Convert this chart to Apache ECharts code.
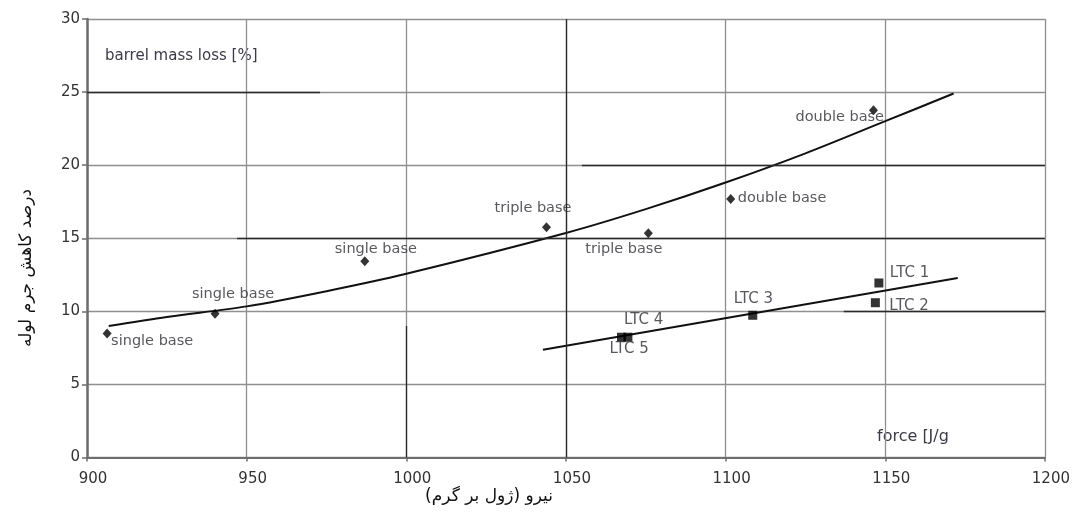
<!DOCTYPE html>
<html>
<head>
<meta charset="utf-8">
<script src="https://cdn.jsdelivr.net/npm/echarts@6/dist/echarts.min.js"></script>
<style>html,body{margin:0;padding:0;background:#fff}#c{width:1073px;height:518px}</style>
</head>
<body>
<div id="c"></div>
<script>
// ---- data ----
const propellantForce = [906.3, 940.1, 987.0, 1043.9, 1075.8, 1101.6, 1146.3];
const propellantLoss  = [8.48, 9.84, 13.43, 15.75, 15.34, 17.68, 23.76];
const propellantNames = ['single base', 'single base', 'single base', 'triple base', 'triple base', 'double base', 'double base'];

const ltcForce = [1148.0, 1146.9, 1108.5, 1069.4, 1067.4];
const ltcLoss  = [11.94, 10.59, 9.73, 8.23, 8.23];
const ltcNames = ['LTC 1', 'LTC 2', 'LTC 3', 'LTC 4', 'LTC 5'];

// fitted curve through the propellant points
const trendForce = [906.8, 925, 950, 975, 1000, 1050, 1075, 1100, 1125, 1150, 1171.4];
const trendLoss  = [9.0, 9.62, 10.34, 11.38, 12.57, 15.36, 16.99, 18.81, 20.81, 23.01, 24.9];

// straight fit through the LTC points
const ltcTrendForce = [1042.8, 1172.7];
const ltcTrendLoss  = [7.37, 12.28];

const xTicks = [900, 950, 1000, 1050, 1100, 1150, 1200];
const yTicks = [0, 5, 10, 15, 20, 25, 30];

// darker grid segments visible in the scan: [x1, y1, x2, y2]
const darkGridSegments = [
  [1050, 0, 1050, 30],
  [900, 25, 973, 25],
  [947, 15, 1200, 15],
  [1055, 20, 1200, 20],
  [1137, 10, 1200, 10],
  [1000, 0, 1000, 9]
];

// ---- label layout (pixel offsets, style only) ----
const propLabelOffsets = [[4, 8], [-23, -19], [-30, -12], [-52, -19], [-63, 16], [7, -1], [-78, 7]];
const ltcLabelOffsets  = [[11, -10], [14, 3], [-19, -16], [-4, -17], [-12, 12]];

const FONT = 'DejaVu Sans';
const TXT = '#2e2e36';

function pts(xs, ys) { return xs.map((x, i) => [x, ys[i]]); }

const propData = propellantForce.map((x, i) => ({
  value: [x, propellantLoss[i]],
  name: propellantNames[i],
  label: { offset: propLabelOffsets[i] }
}));
const ltcData = ltcForce.map((x, i) => ({
  value: [x, ltcLoss[i]],
  name: ltcNames[i],
  label: { offset: ltcLabelOffsets[i] }
}));

const chart = echarts.init(document.getElementById('c'), null, { renderer: 'canvas' });
chart.setOption({
  animation: false,
  backgroundColor: '#fff',
  grid: { left: 87, right: 26, top: 19, bottom: 60.5, containLabel: false },
  xAxis: {
    type: 'value', min: xTicks[0], max: xTicks[xTicks.length - 1], interval: 50,
    axisLine: { show: true, onZero: false, lineStyle: { color: '#6e6e6e', width: 2 } },
    axisTick: { show: true, inside: false, length: 4, lineStyle: { color: '#6e6e6e', width: 1.5 } },
    axisLabel: { color: '#333', fontFamily: FONT, fontSize: 15, margin: 14, padding: [0, 0, 0, 12], formatter: v => String(v) },
    splitLine: { show: true, lineStyle: { color: '#8f8f8f', width: 1.3 } }
  },
  yAxis: {
    type: 'value', min: yTicks[0], max: yTicks[yTicks.length - 1], interval: 5,
    axisLine: { show: true, onZero: false, lineStyle: { color: '#6e6e6e', width: 2.5 } },
    axisTick: { show: true, inside: false, length: 5, lineStyle: { color: '#6e6e6e', width: 1.5 } },
    axisLabel: { color: '#333', fontFamily: FONT, fontSize: 15, margin: 7, formatter: v => String(v) },
    splitLine: { show: true, lineStyle: { color: '#8f8f8f', width: 1.3 } }
  },
  graphic: [
    { type: 'text', x: 105, y: 56, style: { text: 'barrel mass loss [%]', fill: '#3a3a48', font: '15px "DejaVu Sans"', textAlign: 'left', textVerticalAlign: 'middle' } },
    { type: 'text', x: 877, y: 437, style: { text: 'force [J/g', fill: '#3a3a48', font: '16px "DejaVu Sans"', textAlign: 'left', textVerticalAlign: 'middle' } },
    { type: 'text', x: 489, y: 497, style: { text: 'نیرو (ژول بر گرم)', fill: '#111', font: '17px "DejaVu Sans"', textAlign: 'center', textVerticalAlign: 'middle' } },
    { type: 'text', x: 27, y: 268, rotation: Math.PI / 2, style: { text: 'درصد کاهش جرم لوله', fill: '#111', font: '17px "DejaVu Sans"', textAlign: 'center', textVerticalAlign: 'middle' } }
  ],
  series: [
    {
      type: 'line', data: [], silent: true,
      markLine: {
        symbol: ['none', 'none'], silent: true, label: { show: false },
        lineStyle: { color: '#2a2a2a', width: 1.3, type: 'solid' },
        data: darkGridSegments.map(s => [{ coord: [s[0], s[1]] }, { coord: [s[2], s[3]] }])
      }
    },
    {
      type: 'line', data: pts(trendForce, trendLoss), smooth: 0.3,
      showSymbol: false, lineStyle: { color: '#111', width: 2 }, z: 3
    },
    {
      type: 'line', data: pts(ltcTrendForce, ltcTrendLoss),
      showSymbol: false, lineStyle: { color: '#111', width: 2 }, z: 3
    },
    {
      type: 'scatter', data: propData, symbol: 'diamond', symbolSize: [9, 10],
      itemStyle: { color: '#000' }, z: 4,
      label: { show: true, position: 'inside', align: 'left', verticalAlign: 'middle',
               formatter: p => p.name, color: TXT, fontFamily: FONT, fontSize: 14.5 }
    },
    {
      type: 'scatter', data: ltcData, symbol: 'rect', symbolSize: 9,
      itemStyle: { color: '#000' }, z: 4,
      label: { show: true, position: 'inside', align: 'left', verticalAlign: 'middle',
               formatter: p => p.name, color: TXT, fontFamily: FONT, fontSize: 15 }
    }
  ]
});
</script>
</body>
</html>
